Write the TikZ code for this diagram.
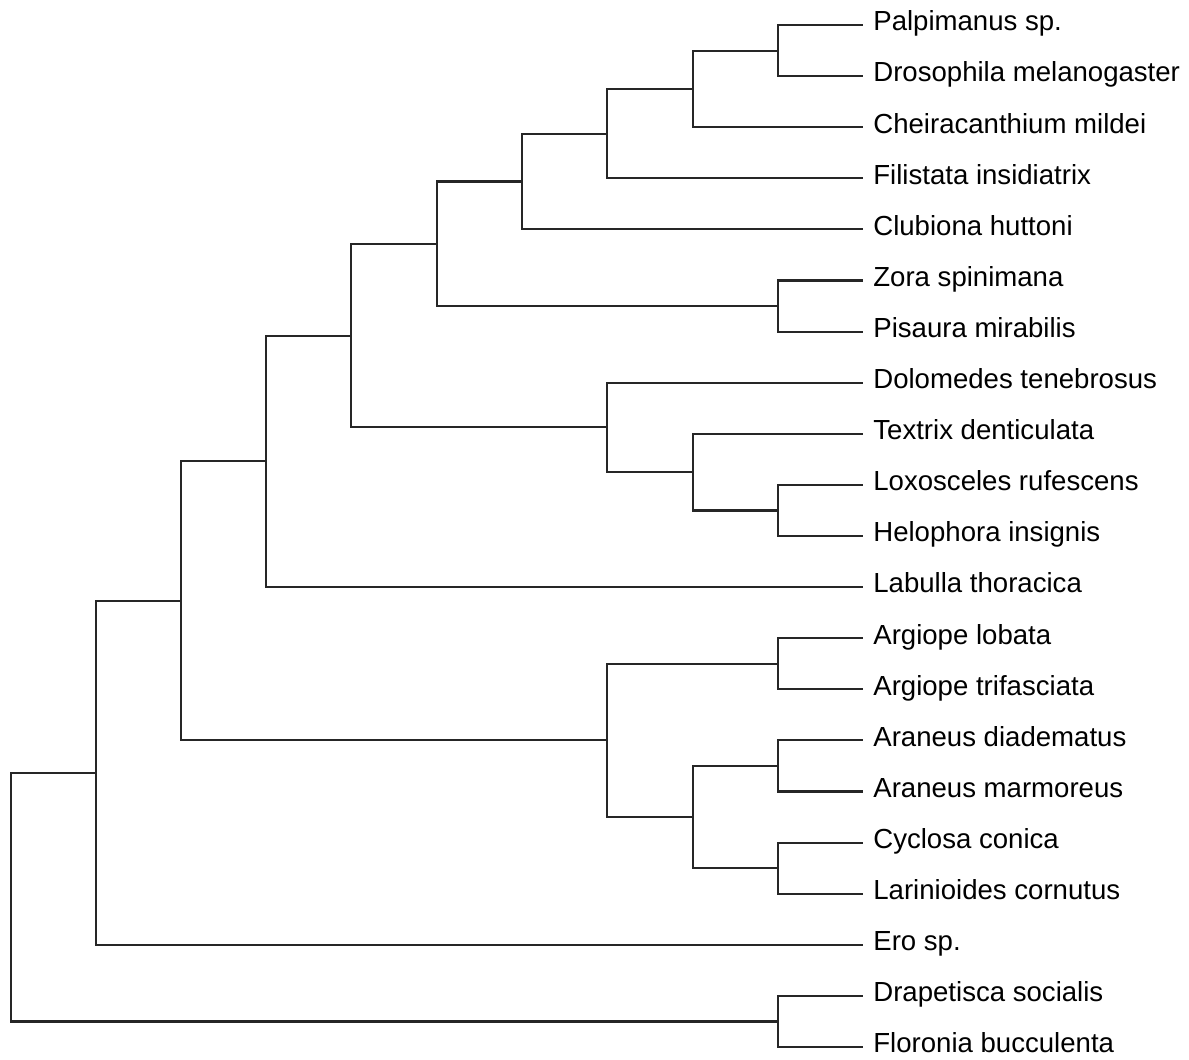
\documentclass[tikz,border=0pt]{standalone}
\usepackage{fontspec}
\setmainfont{Liberation Sans}
\usetikzlibrary{calc}

% clade: name, x position, two children; joins them with elbows
\newcommand{\clade}[4]{%
  \path let \p1=(#3), \p2=(#4) in coordinate (#1) at ({#2*0.02cm},{0.5*(\y1+\y2)});
  \draw[branch] (#1) |- (#3);
  \draw[branch] (#1) |- (#4);
}

\begin{document}
\begin{tikzpicture}[x=0.02cm, y=-0.02cm,
    branch/.style={line width=1.2pt, black!85},
    taxon/.style={anchor=west, inner xsep=0.2cm, inner ysep=0pt,
      text height=0.72em, text depth=0.06em,
      font=\fontsize{15.7}{18}\selectfont}]
  \useasboundingbox (0,0) rectangle (1189,1059);
  % Leaves
  \foreach \txt [count=\i from 0] in {Palpimanus sp., Drosophila melanogaster,
      Cheiracanthium mildei, Filistata insidiatrix, Clubiona huttoni,
      Zora spinimana, Pisaura mirabilis, Dolomedes tenebrosus,
      Textrix denticulata, Loxosceles rufescens, Helophora insignis,
      Labulla thoracica, Argiope lobata, Argiope trifasciata,
      Araneus diadematus, Araneus marmoreus, Cyclosa conica,
      Larinioides cornutus, Ero sp., Drapetisca socialis, Floronia bucculenta}
    \node[taxon] (t\i) at (863,{25+51.1*\i}) {\txt};
  % Upper clade
  \clade{c1}{778}{t0.west}{t1.west}
  \clade{c2}{693}{c1}{t2.west}
  \clade{c3}{607}{c2}{t3.west}
  \clade{c4}{522}{c3}{t4.west}
  \clade{c5}{778}{t5.west}{t6.west}
  \clade{c6}{437}{c4}{c5}
  \clade{c7}{778}{t9.west}{t10.west}
  \clade{c8}{693}{t8.west}{c7}
  \clade{c9}{607}{t7.west}{c8}
  \clade{c10}{351}{c6}{c9}
  \clade{c11}{266}{c10}{t11.west}
  % Araneid clade
  \clade{c12}{778}{t12.west}{t13.west}
  \clade{c13}{778}{t14.west}{t15.west}
  \clade{c14}{778}{t16.west}{t17.west}
  \clade{c15}{693}{c13}{c14}
  \clade{c16}{607}{c12}{c15}
  % Root
  \clade{c17}{181}{c11}{c16}
  \clade{c18}{96}{c17}{t18.west}
  \clade{c19}{778}{t19.west}{t20.west}
  \clade{c20}{11}{c18}{c19}
\end{tikzpicture}
\end{document}
